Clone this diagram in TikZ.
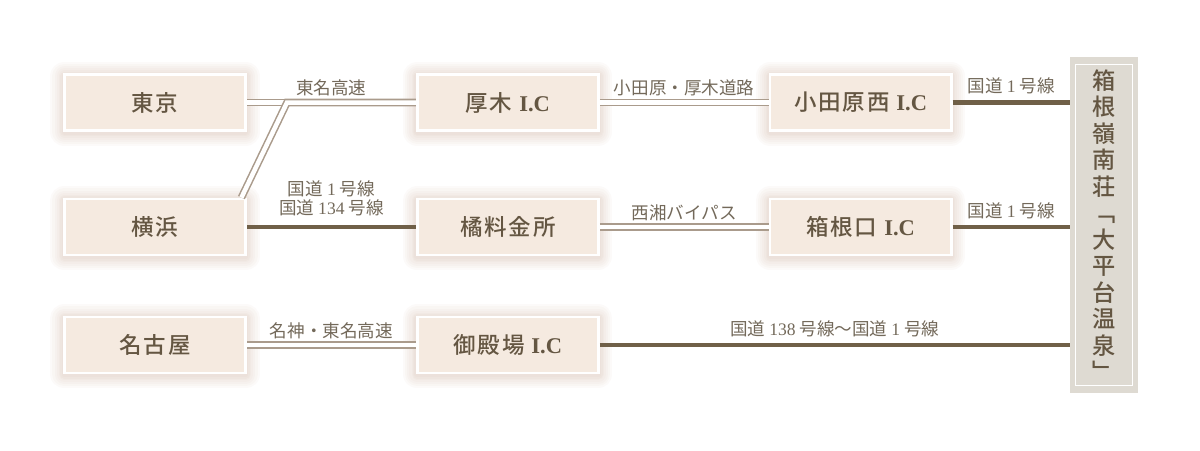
\documentclass[tikz,border=0pt]{standalone}
\usepackage{fontspec}
\newfontfamily\jp{Noto Sans CJK JP}
\newfontfamily\jpbox{Noto Sans CJK JP Medium}[LetterSpace=8]
\newfontfamily\latin{Liberation Serif}
\definecolor{boxfill}{RGB}{245,234,224}
\definecolor{glowc}{RGB}{170,122,92}
\definecolor{txtc}{RGB}{100,86,66}
\definecolor{lblc}{RGB}{115,105,90}
\definecolor{roadc}{RGB}{112,96,72}
\definecolor{dblc}{RGB}{170,155,140}
\definecolor{resortc}{RGB}{222,218,210}

\begin{document}
\begin{tikzpicture}[
    glow/.style = {preaction={draw=glowc, line width=#1, opacity=0.035, line join=round, transform canvas={yshift=-1pt}}},
    box/.style = {rectangle, draw=white, line width=2pt, fill=boxfill,
minimum width=4.53cm, minimum height=1.4cm, text=txtc,
font=\jpbox\fontsize{16}{18}\selectfont,
glow=20pt, glow=17pt, glow=14pt, glow=11pt, glow=8pt, glow=6pt, glow=4pt},
    resort/.style = {rectangle, fill=resortc, minimum width=1.7cm, minimum height=8.4cm,
text=txtc, align=center, inner sep=0pt,
font=\jpbox\fontsize{16.5}{18.85}\selectfont},
    lbl/.style = {font=\jp\fontsize{12.5}{13.5}\selectfont, text=lblc, inner sep=1pt, align=center},
    road/.style = {draw=roadc, line width=3.5pt},
    hwy/.style = {draw=dblc, line width=1.1pt, double=white, double distance=3.2pt},
node distance=8.82cm
]
  \useasboundingbox (0,0) rectangle (30,-11.25);

  \node (tokyo)     [box] at (3.875,-2.5625) {東京};
  \node (atsugi)    [box, right of=tokyo] {厚木 {\latin\bfseries I.C}};
  \node (odawara)   [box, right of=atsugi] {小田原西 {\latin\bfseries I.C}};
  \node (yokohama)  [box] at (3.875,-5.675) {横浜};
  \node (tachibana) [box, right of=yokohama] {橘料金所};
  \node (hakone)    [box, right of=tachibana] {箱根口 {\latin\bfseries I.C}};
  \node (nagoya)    [box] at (3.875,-8.625) {名古屋};
  \node (gotemba)   [box, right of=nagoya] {御殿場 {\latin\bfseries I.C}};

  \node (resort) [resort] at (27.6,-5.625) {箱\\根\\嶺\\南\\荘\\﹁\\大\\平\\台\\温\\泉\\﹂};
  \draw[white, line width=0.8pt] ([xshift=0.15cm, yshift=-0.2cm]resort.north west) rectangle ([xshift=-0.15cm, yshift=0.2cm]resort.south east);

  % expressways
  \draw[hwy] (tokyo) -- node[midway, above=3pt, lbl] {東名高速} (atsugi);
  \coordinate (jct) at ([xshift=1cm]tokyo.east);
  \draw[hwy] ([xshift=-0.14cm]yokohama.north east) -- (jct) -- (atsugi.west);
  \draw[hwy] (atsugi) -- node[midway, above=3pt, lbl] {小田原・厚木道路} (odawara);
  \draw[hwy] (tachibana) -- node[midway, above=3pt, lbl] {西湘バイパス} (hakone);
  \draw[hwy] (nagoya) -- node[midway, above=3pt, lbl] {名神・東名高速} (gotemba);

  % national roads
  \draw[road] (yokohama) -- node[midway, above=5pt, lbl] {国道 {\latin 1} 号線\\国道 {\latin 134} 号線} (tachibana);
  \draw[road] (odawara) -- node[midway, above=3pt, lbl] {国道 {\latin 1} 号線} (odawara -| resort.west);
  \draw[road] (hakone) -- node[midway, above=3pt, lbl] {国道 {\latin 1} 号線} (hakone -| resort.west);
  \draw[road] (gotemba) -- node[midway, above=3pt, lbl] {国道 {\latin 138} 号線〜国道 {\latin 1} 号線} (gotemba -| resort.west);

\end{tikzpicture}
\end{document}
